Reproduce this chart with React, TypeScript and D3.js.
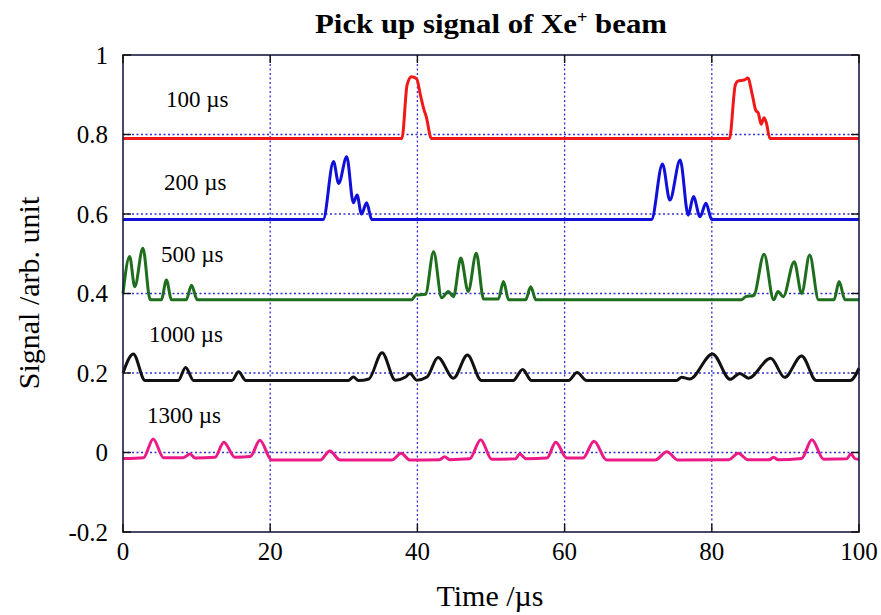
import React from 'react';
import * as d3 from 'd3';

// time (µs) / signal pairs
const trace100: [number, number][] = [
  [0, 0.79], [37.9, 0.79], [38.6, 0.925], [39.2, 0.945], [39.9, 0.94], [40.4, 0.9],
  [40.9, 0.862], [41.2, 0.845], [41.9, 0.79], [82.4, 0.79], [83.2, 0.925], [83.6, 0.935],
  [84.4, 0.937], [84.9, 0.942], [85.5, 0.9], [86.0, 0.86], [86.3, 0.855], [86.7, 0.826],
  [87.1, 0.842], [87.4, 0.83], [87.9, 0.79], [100, 0.79],
];
const trace200: [number, number][] = [
  [0, 0.586], [27.2, 0.586], [28.6, 0.732], [29.3, 0.677], [30.4, 0.744], [31.3, 0.628],
  [31.8, 0.648], [32.4, 0.6], [33.1, 0.628], [33.8, 0.586], [71.8, 0.586], [73.3, 0.726],
  [74.3, 0.635], [75.7, 0.736], [76.8, 0.597], [77.5, 0.644], [78.4, 0.593], [79.2, 0.627],
  [80.0, 0.586], [100, 0.586],
];
const trace500: [number, number][] = [
  [0, 0.4], [0.9, 0.493], [1.6, 0.417], [2.7, 0.514], [3.7, 0.384], [5.2, 0.384], [5.9, 0.434],
  [6.6, 0.384], [8.6, 0.384], [9.3, 0.421], [10.1, 0.384], [39.2, 0.384], [39.8, 0.396],
  [41.1, 0.398], [42.2, 0.505], [43.3, 0.389], [44.2, 0.405], [44.9, 0.392], [45.9, 0.489],
  [46.9, 0.405], [48.0, 0.501], [49.0, 0.386], [51.0, 0.386], [51.7, 0.43], [52.4, 0.384],
  [54.7, 0.384], [55.4, 0.417], [56.1, 0.384], [84.0, 0.384], [84.6, 0.392], [85.7, 0.395],
  [87.1, 0.499], [88.4, 0.384], [89.0, 0.405], [89.7, 0.392], [91.2, 0.48], [92.2, 0.4],
  [93.3, 0.497], [94.5, 0.384], [96.6, 0.384], [97.3, 0.43], [98.1, 0.384], [100, 0.384],
];
const trace1000: [number, number][] = [
  [0, 0.2], [1.4, 0.248], [3.0, 0.181], [7.5, 0.181], [8.5, 0.214], [9.6, 0.181], [14.8, 0.181],
  [15.7, 0.203], [16.7, 0.181], [30.6, 0.181], [31.3, 0.19], [32.0, 0.181], [33.4, 0.185],
  [35.2, 0.251], [37.0, 0.182], [38.4, 0.19], [39.0, 0.199], [39.9, 0.182], [41.3, 0.19],
  [42.8, 0.239], [44.9, 0.187], [46.8, 0.245], [48.7, 0.181], [53.0, 0.181], [54.3, 0.209],
  [55.5, 0.181], [60.5, 0.181], [61.7, 0.201], [63.0, 0.181], [75.2, 0.181], [75.9, 0.189],
  [77.0, 0.185], [80.1, 0.248], [82.5, 0.184], [83.8, 0.199], [85.0, 0.187], [88.0, 0.237],
  [89.9, 0.189], [92.2, 0.243], [94.2, 0.181], [98.8, 0.181], [100, 0.212],
];
const trace1300: [number, number][] = [
  [0, -0.015], [2.8, -0.013], [4.1, 0.034], [5.5, -0.013], [8.2, -0.013], [9.1, -0.004],
  [9.8, -0.014], [12.5, -0.012], [13.7, 0.026], [15.2, -0.012], [17.3, -0.01], [18.6, 0.031],
  [20.2, -0.019], [26.8, -0.019], [28.1, 0.004], [29.5, -0.019], [36.5, -0.019], [37.8, -0.002],
  [39.0, -0.019], [43.0, -0.018], [43.7, -0.011], [44.4, -0.018], [47.1, -0.016], [48.6, 0.032],
  [50.1, -0.017], [53.3, -0.016], [53.9, -0.004], [54.8, -0.016], [57.6, -0.014], [58.8, 0.026],
  [60.3, -0.014], [62.5, -0.014], [64.0, 0.028], [65.7, -0.019], [72.3, -0.019], [73.9, 0.002],
  [75.4, -0.019], [82.3, -0.018], [83.6, -0.002], [84.9, -0.018], [87.8, -0.018], [88.4, -0.012],
  [89.0, -0.018], [92.2, -0.015], [93.6, 0.032], [95.2, -0.017], [98.3, -0.016], [98.9, -0.004],
  [99.5, -0.016], [100, -0.017],
];

const seriesNames = ['100 µs', '200 µs', '500 µs', '1000 µs', '1300 µs'];
const seriesData = [trace100, trace200, trace500, trace1000, trace1300];
const seriesColors = ['#f01818', '#1010d8', '#1e6e1e', '#111111', '#ec1a86'];

const xTicks = [0, 20, 40, 60, 80, 100];
const yTicks = [-0.2, 0, 0.2, 0.4, 0.6, 0.8, 1];

// label placement in px (left edge, baseline)
const labelX = [166, 164, 161, 149, 147];
const labelY = [107, 190, 262, 342, 423];

const W = 881;
const H = 615;
const m = { left: 123, right: 22, top: 55, bottom: 83 };
const font = '"Liberation Serif", "Times New Roman", serif';

export default function App() {
  const x = d3.scaleLinear().domain([0, 100]).range([m.left, W - m.right]);
  const y = d3.scaleLinear().domain([-0.2, 1]).range([H - m.bottom, m.top]);

  const line = d3
    .line<[number, number]>()
    .x(d => x(d[0]))
    .y(d => y(d[1]))
    .curve(d3.curveMonotoneX);

  const gridColor = '#2f2fd0';

  return (
    <svg
      width={W}
      height={H}
      style={{ position: 'absolute', left: 0, top: 0, background: '#fff' }}
      fontFamily={font}
    >
      {/* title */}
      <text x={491} y={33} textAnchor="middle" fontSize={27} fontWeight="bold"
        textLength={352} lengthAdjust="spacingAndGlyphs">
        Pick up signal of Xe
        <tspan dy={-10} fontSize={16}>+</tspan>
        <tspan dy={10}> beam</tspan>
      </text>

      {/* grid */}
      {xTicks.slice(1, -1).map(t => (
        <line key={'gx' + t} x1={x(t)} x2={x(t)} y1={y(1)} y2={y(-0.2)}
          stroke={gridColor} strokeWidth={1.3} strokeDasharray="2,2.5" />
      ))}
      {yTicks.slice(1, -1).map(t => (
        <line key={'gy' + t} x1={x(0)} x2={x(100)} y1={y(t)} y2={y(t)}
          stroke={gridColor} strokeWidth={1.3} strokeDasharray="2,2.5" />
      ))}

      {/* traces */}
      {seriesData.map((d, i) => (
        <path key={seriesNames[i]} d={line(d) || ''} fill="none"
          stroke={seriesColors[i]} strokeWidth={3} strokeLinejoin="round" />
      ))}

      {/* frame + ticks */}
      <rect x={x(0)} y={y(1)} width={x(100) - x(0)} height={y(-0.2) - y(1)}
        fill="none" stroke="#1a1a40" strokeWidth={1.6} />
      {yTicks.map(t => (
        <g key={'ty' + t}>
          <line x1={x(0)} x2={x(0) + 8} y1={y(t)} y2={y(t)} stroke="#111" strokeWidth={1.4} />
          <line x1={x(100)} x2={x(100) - 8} y1={y(t)} y2={y(t)} stroke="#111" strokeWidth={1.4} />
          <text x={108} y={y(t) + 8.5} textAnchor="end" fontSize={25}>{t}</text>
        </g>
      ))}
      {xTicks.map(t => (
        <g key={'tx' + t}>
          <line x1={x(t)} x2={x(t)} y1={y(-0.2)} y2={y(-0.2) - 8} stroke="#111" strokeWidth={1.4} />
          <line x1={x(t)} x2={x(t)} y1={y(1)} y2={y(1) + 8} stroke="#111" strokeWidth={1.4} />
          <text x={x(t)} y={560} textAnchor="middle" fontSize={25}>{t}</text>
        </g>
      ))}

      {/* series labels */}
      {seriesNames.map((s, i) => (
        <text key={'l' + s} x={labelX[i]} y={labelY[i]} fontSize={23}>{s}</text>
      ))}

      {/* axis titles */}
      <text x={490} y={606} textAnchor="middle" fontSize={30}>Time /µs</text>
      <text transform="translate(39,293) rotate(-90)" textAnchor="middle" fontSize={30}>
        Signal /arb. unit
      </text>
    </svg>
  );
}
